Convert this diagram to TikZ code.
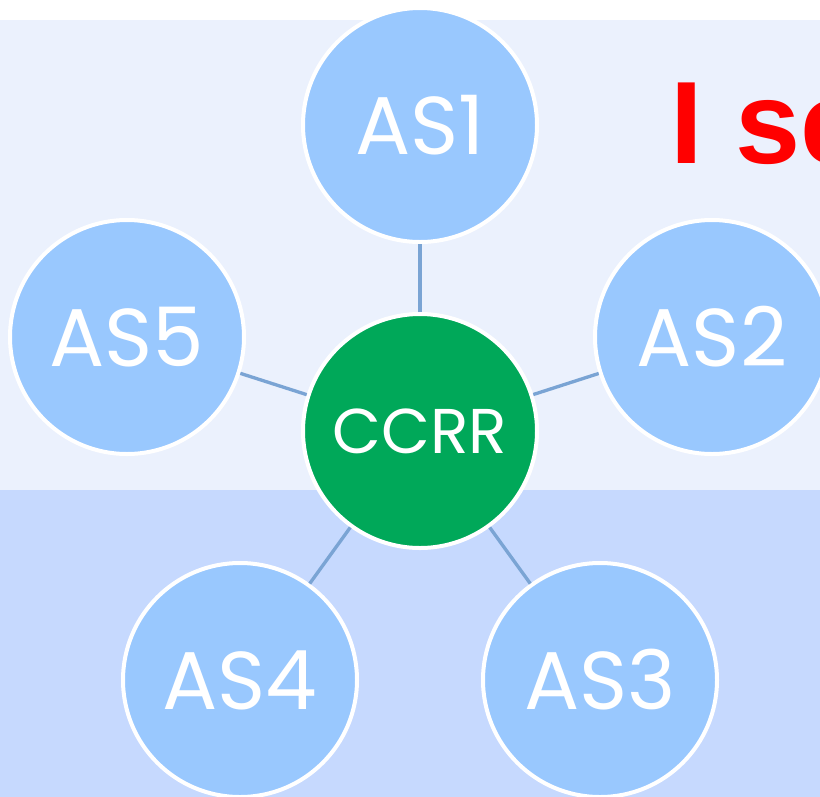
\documentclass[tikz,border=0pt]{standalone}
\usepackage{fontspec}
\setmainfont{Liberation Sans}
\newfontfamily\asfont{Poppins}

\definecolor{bgtop}{HTML}{EBF1FD}
\definecolor{bgbottom}{HTML}{C6D9FE}
\definecolor{asblue}{HTML}{99C8FE}
\definecolor{hubgreen}{HTML}{00A859}
\definecolor{linkblue}{HTML}{7AA4D4}

\tikzset{
  asnode/.style={circle, fill=asblue, draw=white, line width=1.2mm, minimum size=70.2mm,
    inner sep=0pt, text=white, font=\asfont\fontsize{70}{80}\selectfont},
  hubnode/.style={asnode, fill=hubgreen, font=\asfont\fontsize{54}{60}\selectfont},
  link/.style={draw=linkblue, line width=1mm},
  title/.style={text=red, inner sep=0pt, font=\bfseries\fontsize{100}{110}\selectfont}
}

\begin{document}
\begin{tikzpicture}[x=0.3mm,y=-0.3mm]
\useasboundingbox (0,0) rectangle (820,797);
\clip (0,0) rectangle (820,797);

% background bands
\fill[white] (0,0) rectangle (820,20);
\fill[bgtop] (0,20) rectangle (820,490);
\fill[bgbottom] (0,490) rectangle (820,797);

% title, cut at the right edge
\node[title, anchor=base west] (title) at (670,163) {I se};

% centre and the five AS
\node[hubnode] (ccrr) at (420,431) {CCRR};
\node[asnode] (as1) at (420,125) {AS1};
\node[asnode] (as2) at (712,337) {AS2};
\node[asnode] (as3) at (600,680) {AS3};
\node[asnode] (as4) at (240,680) {AS4};
\node[asnode] (as5) at (127,337) {AS5};

% links
\draw[link] (ccrr) -- (as1);
\draw[link] (ccrr) -- (as2);
\draw[link] (ccrr) -- (as3);
\draw[link] (ccrr) -- (as4);
\draw[link] (ccrr) -- (as5);

\end{tikzpicture}
\end{document}
